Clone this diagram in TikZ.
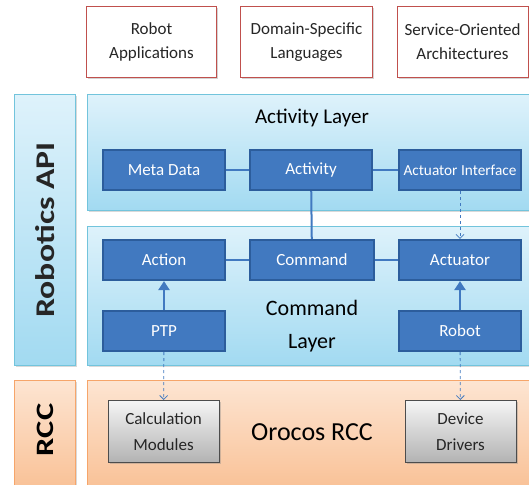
\documentclass[tikz,border=0pt]{standalone}
\usepackage{fontspec}
\setmainfont{Carlito}
\usetikzlibrary{arrows.meta, shadows}
\definecolor{boxblue}{HTML}{4179C0}
\definecolor{boxedge}{HTML}{2C5D9C}
\definecolor{layertop}{HTML}{DEF2FB}
\definecolor{layerbot}{HTML}{A2DAF1}
\definecolor{layeredge}{HTML}{72C4DC}
\definecolor{rcctop}{HTML}{FDE5D2}
\definecolor{rccbot}{HTML}{F9C298}
\definecolor{rccedge}{HTML}{F6A56A}
\definecolor{appedge}{HTML}{C0504D}
\definecolor{txt}{HTML}{262626}

\begin{document}
\begin{tikzpicture}[x=1pt, y=-1pt, font=\color{txt},
app/.style={draw=appedge, fill=white, line width=0.8pt, align=center, font=\fontsize{17}{24}\selectfont\color{txt},
  drop shadow={shadow xshift=1.5pt, shadow yshift=-1.5pt, opacity=0.35}},
layer/.style={draw=layeredge, line width=1pt, top color=layertop, bottom color=layerbot,
  drop shadow={shadow xshift=1.5pt, shadow yshift=-1.5pt, opacity=0.3}},
rcc/.style={draw=rccedge, line width=1pt, top color=rcctop, bottom color=rccbot,
  drop shadow={shadow xshift=1.5pt, shadow yshift=-1.5pt, opacity=0.3}},
blk/.style={draw=boxedge, fill=boxblue, line width=2.2pt, minimum width=122pt, minimum height=40pt,
  font=\fontsize{17}{20}\selectfont\color{white}},
drv/.style={draw=black!70, line width=1pt, top color=black!4, bottom color=black!30, minimum width=111pt,
  minimum height=62pt, align=center, font=\fontsize{17}{26}\selectfont\color{txt},
  drop shadow={shadow xshift=1.5pt, shadow yshift=-1.5pt, opacity=0.35}},
side/.style={font=\fontsize{27}{30}\selectfont\bfseries\color{txt}},
link/.style={boxblue, line width=2.5pt},
dep/.style={boxblue, line width=0.8pt, dashed, -{Straight Barb[length=4pt, width=8pt]}},
use/.style={boxblue, line width=2.5pt, -{Triangle[length=9pt, width=11pt]}}]
\useasboundingbox (0,0) rectangle (529,484);

% usage on top
\node[app, minimum width=130pt, minimum height=71pt] (apps) at (151.5,42) {Robot\\Applications};
\node[app, minimum width=132pt, minimum height=71pt] (dsl) at (306.5,42) {Domain-Specific\\Languages};
\node[app, minimum width=131pt, minimum height=71pt] (soa) at (462.5,42) {Service-Oriented\\Architectures};

% side bars
\node[layer, minimum width=61pt, minimum height=270pt] (api) at (45,230) {};
\node[side] at (api.center) {\rotatebox{90}{\scalebox{1.25}[1]{Robotics API}}};
\node[rcc, minimum width=61pt, minimum height=106pt] (rccbar) at (45,433) {};
\node[side, font=\fontsize{25}{28}\selectfont\bfseries] at (45,430) {\rotatebox{90}{\scalebox{1.3}[1]{RCC}}};

% layers
\node[layer, minimum width=444pt, minimum height=115pt] (actlayer) at (309,152.5) {};
\node[layer, minimum width=444pt, minimum height=139pt] (cmdlayer) at (309,295.5) {};
\node[rcc, minimum width=444pt, minimum height=106pt] (orocos) at (309,433) {};
\node[font=\fontsize{21}{24}\selectfont] at (312,118) {Activity Layer};
\node[align=center, font=\fontsize{22}{33}\selectfont] at (312,326) {Command\\Layer};
\node[font=\fontsize{26}{30}\selectfont] at (312,432) {Orocos RCC};

% activity layer
\node[blk] (meta) at (164,170) {Meta Data};
\node[blk] (activity) at (311,170) {Activity};
\node[blk, font=\fontsize{15.3}{18}\selectfont\color{white}] (actif) at (460,170) {Actuator Interface};

% command layer
\node[blk] (action) at (164,260) {Action};
\node[blk, minimum width=124pt] (command) at (312,260) {Command};
\node[blk] (actuator) at (460,260) {Actuator};
\node[blk] (ptp) at (164,331) {PTP};
\node[blk] (robot) at (460,331) {Robot};

% rcc
\node[drv] (calc) at (163.5,431.5) {Calculation\\Modules};
\node[drv] (drivers) at (460.5,431.5) {Device\\Drivers};

% connections
\draw[link] (meta) -- (activity);
\draw[link] (activity) -- (actif);
\draw[link, line width=2pt] (activity) -- (command);
\draw[link] (action) -- (command);
\draw[link] (command) -- (actuator);
\draw[use] (ptp) -- (action);
\draw[use] (robot) -- (actuator);
\draw[dep] (actif) -- (actuator);
\draw[dep] (ptp) -- (calc);
\draw[dep] (robot) -- (drivers);
\end{tikzpicture}
\end{document}
